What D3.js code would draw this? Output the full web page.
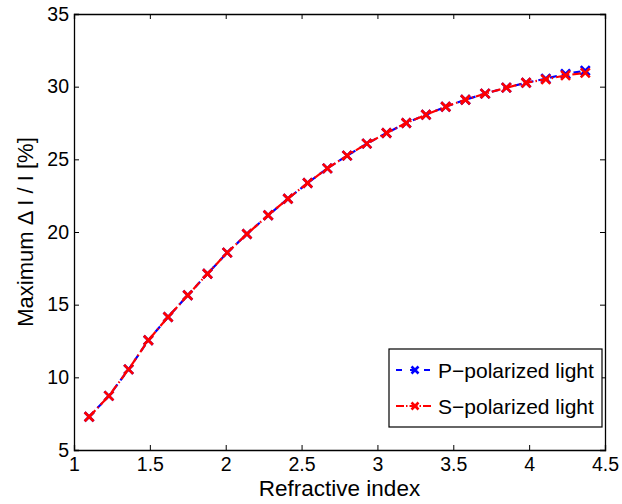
<!DOCTYPE html>
<html>
<head>
<meta charset="utf-8">
<script src="https://cdn.jsdelivr.net/npm/d3@7"></script>
<style>
  body { margin: 0; background: #fff; }
  svg { display: block; }
  text { font-family: "Liberation Sans", Arial, sans-serif; fill: #000; }
</style>
</head>
<body>
<div id="chart"></div>
<script>
// refractive index values (x) and maximum dI/I in percent
const refIndex = [1.10, 1.23, 1.36, 1.49, 1.62, 1.75, 1.88, 2.01, 2.14, 2.28,
  2.41, 2.54, 2.67, 2.80, 2.93, 3.06, 3.19, 3.32, 3.45, 3.58,
  3.71, 3.85, 3.98, 4.11, 4.24, 4.37];
const pPolarized = [7.29, 8.72, 10.55, 12.55, 14.15, 15.65, 17.13, 18.58, 19.86, 21.15,
  22.29, 23.37, 24.38, 25.25, 26.08, 26.81, 27.50, 28.07, 28.62, 29.10,
  29.52, 29.93, 30.27, 30.55, 30.88, 31.10];
const sPolarized = [7.29, 8.72, 10.55, 12.55, 14.15, 15.65, 17.13, 18.58, 19.86, 21.15,
  22.29, 23.37, 24.38, 25.25, 26.08, 26.81, 27.50, 28.07, 28.62, 29.10,
  29.52, 29.93, 30.27, 30.50, 30.78, 30.95];
const xTicks = [1, 1.5, 2, 2.5, 3, 3.5, 4, 4.5];
const yTicks = [5, 10, 15, 20, 25, 30, 35];
const seriesNames = ["P\u2212polarized light", "S\u2212polarized light"];

const W = 622, H = 504;
const margin = { top: 14, right: 17, bottom: 54, left: 74 };
const width = W - margin.left - margin.right;
const height = H - margin.top - margin.bottom;

const svg = d3.select("#chart").append("svg")
  .attr("width", W)
  .attr("height", H);

const g = svg.append("g")
  .attr("transform", `translate(${margin.left},${margin.top})`);

const x = d3.scaleLinear().domain([1, 4.5]).range([0, width]);
const y = d3.scaleLinear().domain([5, 35]).range([height, 0]);

// axes, ticks pointing inward on all four sides
const tickLen = 5;
g.append("g")
  .attr("transform", `translate(0,${height})`)
  .call(d3.axisBottom(x).tickValues(xTicks).tickSize(-tickLen).tickPadding(7).tickFormat(d3.format("")));
g.append("g")
  .call(d3.axisTop(x).tickValues(xTicks).tickSize(-tickLen).tickFormat(""));
g.append("g")
  .call(d3.axisLeft(y).tickValues(yTicks).tickSize(-tickLen).tickPadding(5));
g.append("g")
  .attr("transform", `translate(${width},0)`)
  .call(d3.axisRight(y).tickValues(yTicks).tickSize(-tickLen).tickFormat(""));

g.selectAll(".domain").attr("stroke", "#000").attr("stroke-width", 1.3);
g.selectAll(".tick line").attr("stroke", "#000").attr("stroke-width", 1);
g.selectAll(".tick text").style("font-size", "19.5px");

// axis labels
svg.append("text")
  .attr("x", margin.left + width / 2)
  .attr("y", 496)
  .attr("text-anchor", "middle")
  .style("font-size", "22.5px")
  .text("Refractive index");

svg.append("text")
  .attr("transform", `translate(33,${margin.top + height / 2}) rotate(-90)`)
  .attr("text-anchor", "middle")
  .style("font-size", "22px")
  .text("Maximum \u0394 I / I [%]");

const series = [
  { name: seriesNames[0], values: pPolarized, color: "#0000ff", dash: "7,5" },
  { name: seriesNames[1], values: sPolarized, color: "#ff0000", dash: "9,3,1.5,3" }
];

const line = d3.line()
  .x((d, i) => x(refIndex[i]))
  .y(d => y(d));

function cross(sel, cx, cy, s, color) {
  sel.append("path")
    .attr("d", `M${cx - s},${cy - s}L${cx + s},${cy + s}M${cx - s},${cy + s}L${cx + s},${cy - s}`)
    .attr("stroke", color)
    .attr("stroke-width", 2.6)
    .attr("fill", "none");
}

series.forEach(s => {
  const sg = g.append("g");
  sg.append("path")
    .datum(s.values)
    .attr("d", line)
    .attr("fill", "none")
    .attr("stroke", s.color)
    .attr("stroke-width", 2.2)
    .attr("stroke-dasharray", s.dash);
  s.values.forEach((v, i) => cross(sg, x(refIndex[i]), y(v), 4.5, s.color));
});

// legend
const lg = svg.append("g").attr("transform", "translate(389,349)");
lg.append("rect")
  .attr("width", 213)
  .attr("height", 78)
  .attr("fill", "#fff")
  .attr("stroke", "#000")
  .attr("stroke-width", 1.2);

series.forEach((s, i) => {
  const ly = 21 + i * 36;
  lg.append("line")
    .attr("x1", 7).attr("x2", 44)
    .attr("y1", ly).attr("y2", ly)
    .attr("stroke", s.color)
    .attr("stroke-width", 2.2)
    .attr("stroke-dasharray", i === 0 ? "6,8" : "8,2,1.5,2");
  cross(lg, 26, ly, 3.5, s.color);
  lg.append("text")
    .attr("x", 49)
    .attr("y", ly + 8)
    .style("font-size", "21px")
    .text(s.name);
});
</script>
</body>
</html>
